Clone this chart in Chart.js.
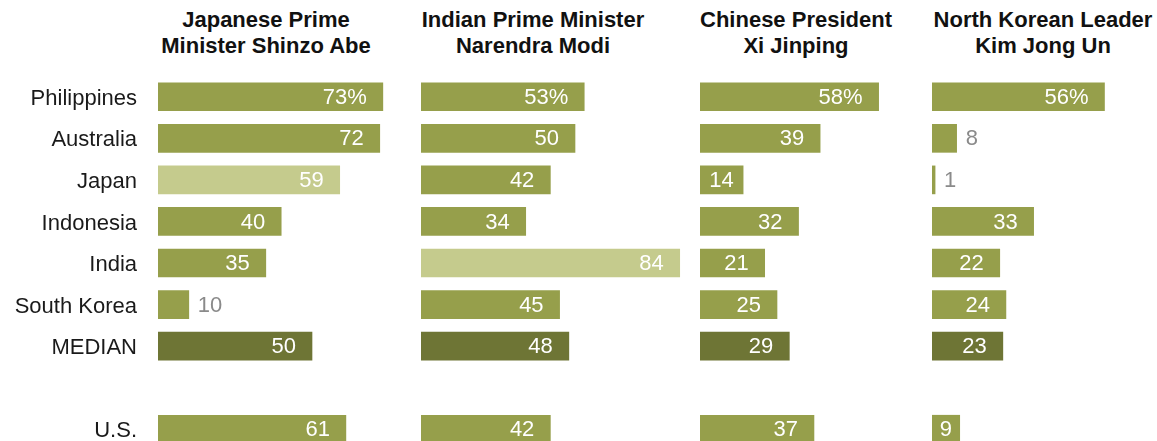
<!DOCTYPE html>
<html>
<head>
<meta charset="utf-8">
<script src="https://cdn.jsdelivr.net/npm/chart.js@4"></script>
<style>
  body { margin: 0; width: 1157px; height: 441px; overflow: hidden; background: #fff; position: relative; }
  .panel { position: absolute; }
  .title {
    position: absolute; top: 7px; width: 300px; text-align: center;
    font: bold 22px "Liberation Sans", Arial, sans-serif; line-height: 26px; color: #111;
  }
</style>
</head>
<body>
<script>
const categories = ["Philippines", "Australia", "Japan", "Indonesia", "India", "South Korea", "MEDIAN", "", "U.S."];
const leaders = [
  ["Japanese Prime", "Minister Shinzo Abe"],
  ["Indian Prime Minister", "Narendra Modi"],
  ["Chinese President", "Xi Jinping"],
  ["North Korean Leader", "Kim Jong Un"],
];
const abeValues = [73, 72, 59, 40, 35, 10, 50, null, 61];
const modiValues = [53, 50, 42, 34, 84, 45, 48, null, 42];
const xiValues = [58, 39, 14, 32, 21, 25, 29, null, 37];
const kimValues = [56, 8, 1, 33, 22, 24, 23, null, 9];
const homeCountry = ["Japan", "India", null, null];

const series = [abeValues, modiValues, xiValues, kimValues];

// layout of the four panels (plot area left edge / width in px)
const panels = [
  { left: 158, width: 263, titleCenter: 266 },
  { left: 421, width: 279, titleCenter: 533 },
  { left: 700, width: 232, titleCenter: 796 },
  { left: 932, width: 225, titleCenter: 1043 },
];
const PX_PER_UNIT = 3.08;
const LABEL_AXIS_WIDTH = 158;
const TOP = 76;
const HEIGHT = 374;

const FONT = '"Liberation Sans", Arial, sans-serif';
const BAR = "#969f4b";
const BAR_HOME = "#c5cb8d";
const BAR_MEDIAN = "#6e7535";

const valueLabels = {
  id: "valueLabels",
  afterDatasetsDraw(chart) {
    const ctx = chart.ctx;
    const meta = chart.getDatasetMeta(0);
    const values = chart.data.datasets[0].data;
    ctx.save();
    ctx.font = "22px " + FONT;
    ctx.textBaseline = "middle";
    ctx.textAlign = "left";
    meta.data.forEach((bar, i) => {
      const v = values[i];
      if (v == null) return;
      const text = i === 0 ? v + "%" : String(v);
      const w = ctx.measureText(text).width;
      const start = bar.base;
      const end = bar.x;
      if (v <= 10 && categories[i] !== "U.S.") {
        ctx.fillStyle = "#8a8a8a";
        ctx.fillText(text, end + 9, bar.y + 1);
      } else {
        ctx.fillStyle = "#fff";
        let x = end - 16 - w;
        if (x < start + 8) x = start + (end - start - w) / 2;
        ctx.fillText(text, x, bar.y + 1);
      }
    });
    ctx.restore();
  },
};

series.forEach((values, p) => {
  const panel = panels[p];
  const withLabels = p === 0;

  const title = document.createElement("div");
  title.className = "title";
  title.style.left = panel.titleCenter - 150 + "px";
  title.innerHTML = leaders[p].join("<br>");
  document.body.appendChild(title);

  const box = document.createElement("div");
  box.className = "panel";
  const boxLeft = withLabels ? panel.left - LABEL_AXIS_WIDTH : panel.left;
  const boxWidth = withLabels ? panel.width + LABEL_AXIS_WIDTH : panel.width;
  box.style.left = boxLeft + "px";
  box.style.top = TOP + "px";
  box.style.width = boxWidth + "px";
  box.style.height = HEIGHT + "px";
  const canvas = document.createElement("canvas");
  box.appendChild(canvas);
  document.body.appendChild(box);

  const colors = categories.map((c) => {
    if (c === "MEDIAN") return BAR_MEDIAN;
    if (c === homeCountry[p]) return BAR_HOME;
    return BAR;
  });

  new Chart(canvas, {
    type: "bar",
    data: {
      labels: categories,
      datasets: [
        {
          data: values,
          backgroundColor: colors,
          borderWidth: 0,
          barThickness: 28,
        },
      ],
    },
    options: {
      indexAxis: "y",
      responsive: true,
      maintainAspectRatio: false,
      animation: false,
      layout: { padding: 0 },
      plugins: { legend: { display: false }, tooltip: { enabled: false } },
      scales: {
        x: {
          display: false,
          min: 0,
          max: panel.width / PX_PER_UNIT,
        },
        y: {
          display: withLabels,
          grid: { display: false, drawTicks: false },
          border: { display: false },
          ticks: {
            padding: 21,
            labelOffset: 2,
            color: "#1a1a1a",
            font: { family: FONT, size: 22 },
          },
          afterFit: (scale) => {
            scale.width = withLabels ? LABEL_AXIS_WIDTH : 0;
            scale.paddingTop = 0;
            scale.paddingBottom = 0;
          },
        },
      },
    },
    plugins: [valueLabels],
  });
});
</script>
</body>
</html>
